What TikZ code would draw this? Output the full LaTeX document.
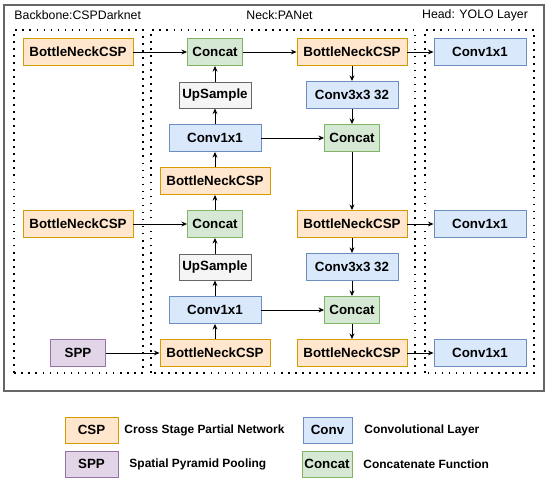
\documentclass[tikz,border=0pt]{standalone}
\usepackage{fontspec}
\setmainfont{Liberation Sans}
\usepackage{xcolor}
\usepackage{tikz}
\usetikzlibrary{positioning,arrows.meta}
\definecolor{cspfill}{HTML}{FFE6CC}
\definecolor{cspline}{HTML}{D79B00}
\definecolor{convfill}{HTML}{DAE8FC}
\definecolor{convline}{HTML}{6C8EBF}
\definecolor{catfill}{HTML}{D5E8D4}
\definecolor{catline}{HTML}{82B366}
\definecolor{upsfill}{HTML}{F5F5F5}
\definecolor{upsline}{HTML}{666666}
\definecolor{sppfill}{HTML}{E1D5E7}
\definecolor{sppline}{HTML}{9673A6}
\begin{document}
\begin{tikzpicture}[
  blk/.style={line width=1.3pt,minimum height=1.35cm,inner sep=0pt,font=\fontsize{19}{22}\selectfont\bfseries},
  csp/.style={blk,draw=cspline,fill=cspfill,minimum width=5.5cm},
  conv/.style={blk,draw=convline,fill=convfill,minimum width=4.6cm},
  cat/.style={blk,draw=catline,fill=catfill,minimum width=2.75cm},
  ups/.style={blk,draw=upsline,fill=upsfill,minimum width=3.6cm,minimum height=1.3cm},
  spp/.style={blk,draw=sppline,fill=sppfill,minimum width=2.75cm},
  zone/.style={line width=2.4pt,dash pattern=on 2.4pt off 7.6pt},
  ttl/.style={font=\fontsize{17.5}{20}\selectfont},
  lgd/.style={font=\fontsize{17}{20}\selectfont\bfseries,anchor=west},
  arr/.style={line width=1.3pt,-{Stealth[length=8pt,width=7pt]}}
]
\useasboundingbox (0,0) rectangle (27.5,24.1);
\draw[draw=black!60,line width=2pt] (0.2,4.55) rectangle (27.2,23.85);
\draw[zone] (0.7,5.45) rectangle (7.15,22.6);
\draw[zone] (7.55,5.45) rectangle (20.75,22.6);
\draw[zone] (21.25,5.45) rectangle (26.7,22.6);
\node[ttl,anchor=west] (tbb) at (0.6,23.35) {Backbone:CSPDarknet};
\node[ttl] (tneck) at (13.975,23.35) {Neck:PANet};
\node[ttl] (thead) at (23.75,23.35) {Head: YOLO Layer};

\node[csp] (bb1) at (3.9,21.5) {BottleNeckCSP};
\node[csp] (bb2) at (3.9,12.9) {BottleNeckCSP};
\node[spp] (spp) at (3.9,6.45) {SPP};

\node[cat] (catl1) at (10.75,21.5) {Concat};
\node[ups] (upl1) at (10.75,19.35) {UpSample};
\node[conv] (cvl1) at (10.75,17.2) {Conv1x1};
\node[csp] (cspl2) at (10.75,15.05) {BottleNeckCSP};
\node[cat] (catl2) at (10.75,12.9) {Concat};
\node[ups] (upl2) at (10.75,10.75) {UpSample};
\node[conv] (cvl2) at (10.75,8.6) {Conv1x1};
\node[csp] (cspl3) at (10.75,6.45) {BottleNeckCSP};

\node[csp] (cspr1) at (17.6,21.5) {BottleNeckCSP};
\node[conv] (cvr1) at (17.6,19.35) {Conv3x3 32};
\node[cat] (catr1) at (17.6,17.2) {Concat};
\node[csp] (cspr2) at (17.6,12.9) {BottleNeckCSP};
\node[conv] (cvr2) at (17.6,10.75) {Conv3x3 32};
\node[cat] (catr2) at (17.6,8.6) {Concat};
\node[csp] (cspr3) at (17.6,6.45) {BottleNeckCSP};

\node[conv] (hd1) at (24.0,21.5) {Conv1x1};
\node[conv] (hd2) at (24.0,12.9) {Conv1x1};
\node[conv] (hd3) at (24.0,6.45) {Conv1x1};

\draw[arr] (bb1) -- (catl1);
\draw[arr] (bb2) -- (catl2);
\draw[arr] (spp) -- (cspl3);
\draw[arr] (cspl3) -- (cvl2);
\draw[arr] (cvl2) -- (upl2);
\draw[arr] (upl2) -- (catl2);
\draw[arr] (catl2) -- (cspl2);
\draw[arr] (cspl2) -- (cvl1);
\draw[arr] (cvl1) -- (upl1);
\draw[arr] (upl1) -- (catl1);
\draw[arr] (catl1) -- (cspr1);
\draw[arr] (cspr1) -- (cvr1);
\draw[arr] (cvr1) -- (catr1);
\draw[arr] (cvl1) -- (catr1);
\draw[arr] (catr1) -- (cspr2);
\draw[arr] (cspr2) -- (cvr2);
\draw[arr] (cvr2) -- (catr2);
\draw[arr] (cvl2) -- (catr2);
\draw[arr] (catr2) -- (cspr3);
\draw[arr] (cspr1) -- (hd1);
\draw[arr] (cspr2) -- (hd2);
\draw[arr] (cspr3) -- (hd3);

\node[csp,minimum width=2.65cm,minimum height=1.3cm] (kcsp) at (4.575,2.6) {CSP};
\node[spp,minimum width=2.65cm,minimum height=1.3cm] (kspp) at (4.575,0.9) {SPP};
\node[conv,minimum width=2.45cm,minimum height=1.3cm] (kconv) at (16.375,2.6) {Conv};
\node[cat,minimum width=2.5cm,minimum height=1.3cm] (kcat) at (16.35,0.9) {Concat};
\node[lgd] (tcsp) at (6.1,2.6) {Cross Stage Partial Network};
\node[lgd] (tspp) at (6.35,0.9) {Spatial Pyramid Pooling};
\node[lgd] (tconv) at (18.1,2.6) {Convolutional Layer};
\node[lgd] (tcat) at (18.05,0.9) {Concatenate Function};
\end{tikzpicture}
\end{document}
